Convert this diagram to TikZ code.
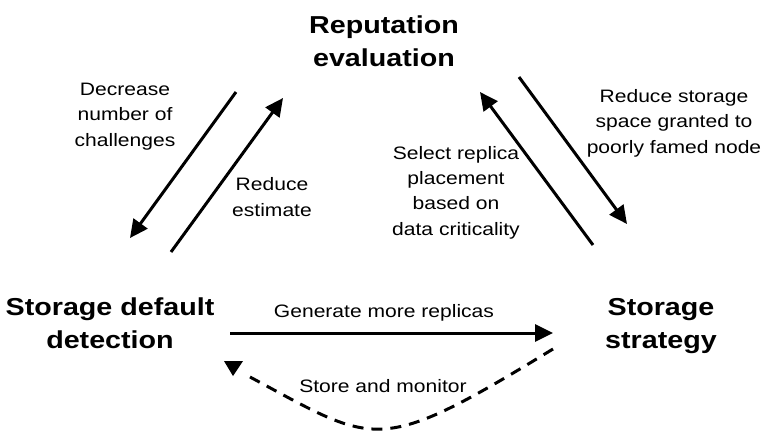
\documentclass[tikz,border=0pt]{standalone}
\usepackage{fontspec}
\setmainfont{Liberation Sans}[FakeStretch=1.17]
\usetikzlibrary{arrows.meta}
\begin{document}
\begin{tikzpicture}[x=1pt,y=-1pt,
  lbl/.style={font=\fontsize{18}{25.3}\selectfont, align=center, anchor=base, inner sep=0pt},
  big/.style={font=\fontsize{24.5}{32.5}\selectfont\bfseries, align=center, anchor=base, inner sep=0pt},
  conn/.style={line width=3pt, -{Triangle[length=18pt,width=17pt]}},
  dashconn/.style={line width=3pt, dash pattern=on 11pt off 8pt},
  headfill/.style={fill=black},
]
\useasboundingbox (0,0) rectangle (764,432);
% main nodes (anchor = baseline of last line)
\node[big] (rep) at (384,66) {Reputation\\evaluation};
\node[big] (sdd) at (110,348) {Storage default\\detection};
\node[big] (ss) at (661,348) {Storage\\strategy};
% labels
\node[lbl] (l1) at (125,146) {Decrease\\number of\\challenges};
\node[lbl] (l2) at (272,216) {Reduce\\estimate};
\node[lbl] (l3) at (456,235) {Select replica\\placement\\based on\\data criticality};
\node[lbl] (l4) at (674,153) {Reduce storage\\space granted to\\poorly famed node};
\node[lbl] (l5) at (384,317) {Generate more replicas};
\node[lbl] (l6) at (383,392) {Store and monitor};
% connector end points
\coordinate (a1s) at (236,92);  \coordinate (a1e) at (130,238);
\coordinate (a2s) at (171,252); \coordinate (a2e) at (283,98);
\coordinate (a3s) at (593,245); \coordinate (a3e) at (480,92);
\coordinate (a4s) at (519,77);  \coordinate (a4e) at (627,224);
\coordinate (hs) at (230,333);  \coordinate (he) at (553,333);
\coordinate (ds) at (553,349);  \coordinate (de) at (250,377);
% connectors
\draw[conn] (a1s) -- (a1e);
\draw[conn] (a2s) -- (a2e);
\draw[conn] (a3s) -- (a3e);
\draw[conn] (a4s) -- (a4e);
\draw[conn] (hs) -- (he);
\draw[dashconn] (ds) .. controls (376,457) and (377,445) .. (de);
\fill[headfill] (224,361) -- (243,361) -- (233,376) -- cycle;
\end{tikzpicture}
\end{document}
